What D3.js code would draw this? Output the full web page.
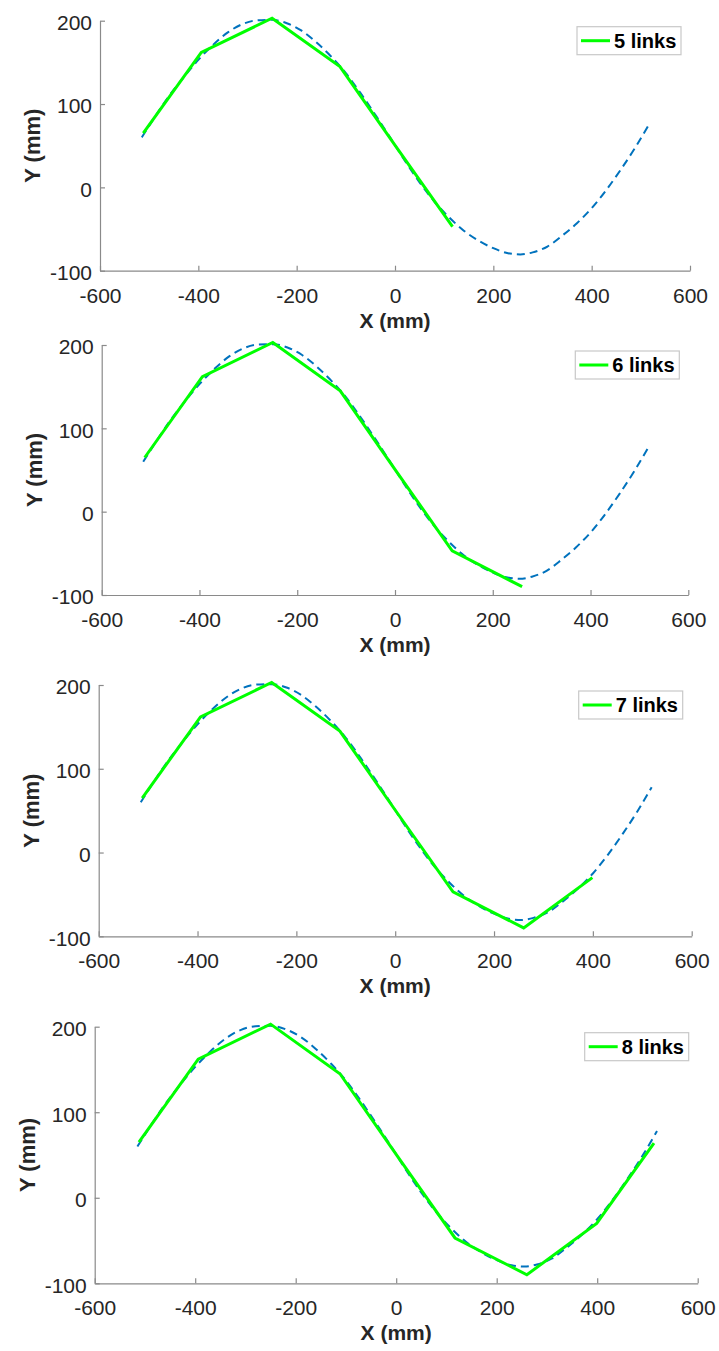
<!DOCTYPE html>
<html>
<head>
<meta charset="utf-8">
<script src="https://cdn.jsdelivr.net/npm/d3@7"></script>
<style>
  body { margin: 0; background: #fff; }
  svg { display: block; font-family: "Liberation Sans", Arial, Helvetica, sans-serif; }
</style>
</head>
<body>
<svg id="chart"></svg>
<script>
// target curve (blue dashed)
let curveX = [-515, -490, -464, -430, -400, -370, -340, -310, -280, -250, -220, -190, -160, -130, -100, -70, -40, -10,
  20, 50, 80, 110, 140, 170, 200, 230, 255, 280, 310, 340, 370, 400, 430, 460, 490, 519];
let curveY = [60, 83, 106, 132, 153, 171, 186, 196, 200.5, 201, 197, 188, 174, 157, 137, 113, 87, 60,
  32, 6, -17, -36, -52, -64, -73, -79, -80.5, -78, -71, -58, -43, -25, -3, 22, 49, 78];

// joint positions of the link chain (green)
let jointX = [-512, -394, -250, -112, 2, 117, 260, 399, 513];
let jointY = [65, 162, 203, 145, 49, -47, -90, -30, 64];

let linkCounts = [5, 6, 7, 8];
let legendLabels = ['5 links', '6 links', '7 links', '8 links'];

let xTicks = [-600, -400, -200, 0, 200, 400, 600];
let yTicks = [-100, 0, 100, 200];

// plot boxes of the four subplots (pixels)
let panels = [
  { left: 100, right: 690, top: 20.7, bottom: 270.7 },
  { left: 101.7, right: 688.3, top: 345, bottom: 595 },
  { left: 98.7, right: 691.7, top: 685, bottom: 936.3 },
  { left: 94.7, right: 697.7, top: 1026.7, bottom: 1283.3 }
];

function getConfig() {
  let width = 719;
  let height = 1351;
  let container = d3.select('#chart').attr('width', width).attr('height', height);
  return { width, height, container };
}

function getScales(box) {
  let xScale = d3.scaleLinear().domain([-600, 600]).range([box.left, box.right]);
  let yScale = d3.scaleLinear().domain([-100, 200]).range([box.bottom, box.top]);
  return { xScale, yScale };
}

function styleAxis(g) {
  g.attr('font-size', 21).attr('font-family', null);
  g.select('.domain').attr('stroke', '#8a8a8a').attr('stroke-width', 1.2);
  g.selectAll('.tick line').attr('stroke', '#8a8a8a').attr('stroke-width', 1.2);
  g.selectAll('.tick text').attr('fill', '#262626');
}

function drawAxes(container, box, scales) {
  let { xScale, yScale } = scales;
  // plain hyphen for negatives, like the original
  let fmt = d => String(d);
  let axisX = d3.axisBottom(xScale).tickValues(xTicks).tickFormat(fmt)
    .tickSizeInner(-5).tickSizeOuter(0).tickPadding(17);
  container.append('g')
    .attr('transform', `translate(0,${box.bottom})`)
    .call(axisX)
    .call(styleAxis);

  let axisY = d3.axisLeft(yScale).tickValues(yTicks).tickFormat(fmt)
    .tickSizeInner(-5).tickSizeOuter(0).tickPadding(8);
  container.append('g')
    .attr('transform', `translate(${box.left},0)`)
    .call(axisY)
    .call(styleAxis)
    .selectAll('.tick text').attr('dy', '0.42em');

  container.append('text')
    .attr('x', (box.left + box.right) / 2)
    .attr('y', box.bottom + 57)
    .attr('text-anchor', 'middle')
    .attr('font-size', 21)
    .attr('font-weight', 'bold')
    .attr('fill', '#262626')
    .text('X (mm)');

  container.append('text')
    .attr('transform', `translate(${box.left - 60},${(box.top + box.bottom) / 2}) rotate(-90)`)
    .attr('text-anchor', 'middle')
    .attr('font-size', 22)
    .attr('font-weight', 'bold')
    .attr('fill', '#262626')
    .text('Y (mm)');
}

function drawLines(container, scales, nLinks) {
  let { xScale, yScale } = scales;
  let curve = curveX.map((d, i) => [d, curveY[i]]);
  let joints = jointX.slice(0, nLinks + 1).map((d, i) => [d, jointY[i]]);

  let smooth = d3.line().x(d => xScale(d[0])).y(d => yScale(d[1])).curve(d3.curveMonotoneX);
  let straight = d3.line().x(d => xScale(d[0])).y(d => yScale(d[1]));

  container.append('path')
    .attr('d', smooth(curve))
    .attr('fill', 'none')
    .attr('stroke', '#0072BD')
    .attr('stroke-width', 2)
    .attr('stroke-dasharray', '8,5');

  container.append('path')
    .attr('d', straight(joints))
    .attr('fill', 'none')
    .attr('stroke', '#00FF00')
    .attr('stroke-width', 3)
    .attr('stroke-linejoin', 'miter');
}

function drawLegend(container, box, label) {
  let w = 104, h = 28;
  let x0 = box.right - 9 - w;
  let y0 = box.top + 6;
  let g = container.append('g').attr('transform', `translate(${x0},${y0})`);
  g.append('rect')
    .attr('width', w).attr('height', h)
    .attr('fill', '#fff')
    .attr('stroke', '#c8c8c8')
    .attr('stroke-width', 1.2);
  g.append('line')
    .attr('x1', 4).attr('x2', 33)
    .attr('y1', h / 2).attr('y2', h / 2)
    .attr('stroke', '#00FF00')
    .attr('stroke-width', 3);
  g.append('text')
    .attr('x', 37).attr('y', h / 2 + 7)
    .attr('font-size', 20)
    .attr('font-weight', 'bold')
    .attr('fill', '#000')
    .text(label);
}

function drawChart() {
  let config = getConfig();
  panels.forEach((box, i) => {
    let scales = getScales(box);
    drawAxes(config.container, box, scales);
    drawLines(config.container, scales, linkCounts[i]);
    drawLegend(config.container, box, legendLabels[i]);
  });
}

drawChart();
</script>
</body>
</html>
